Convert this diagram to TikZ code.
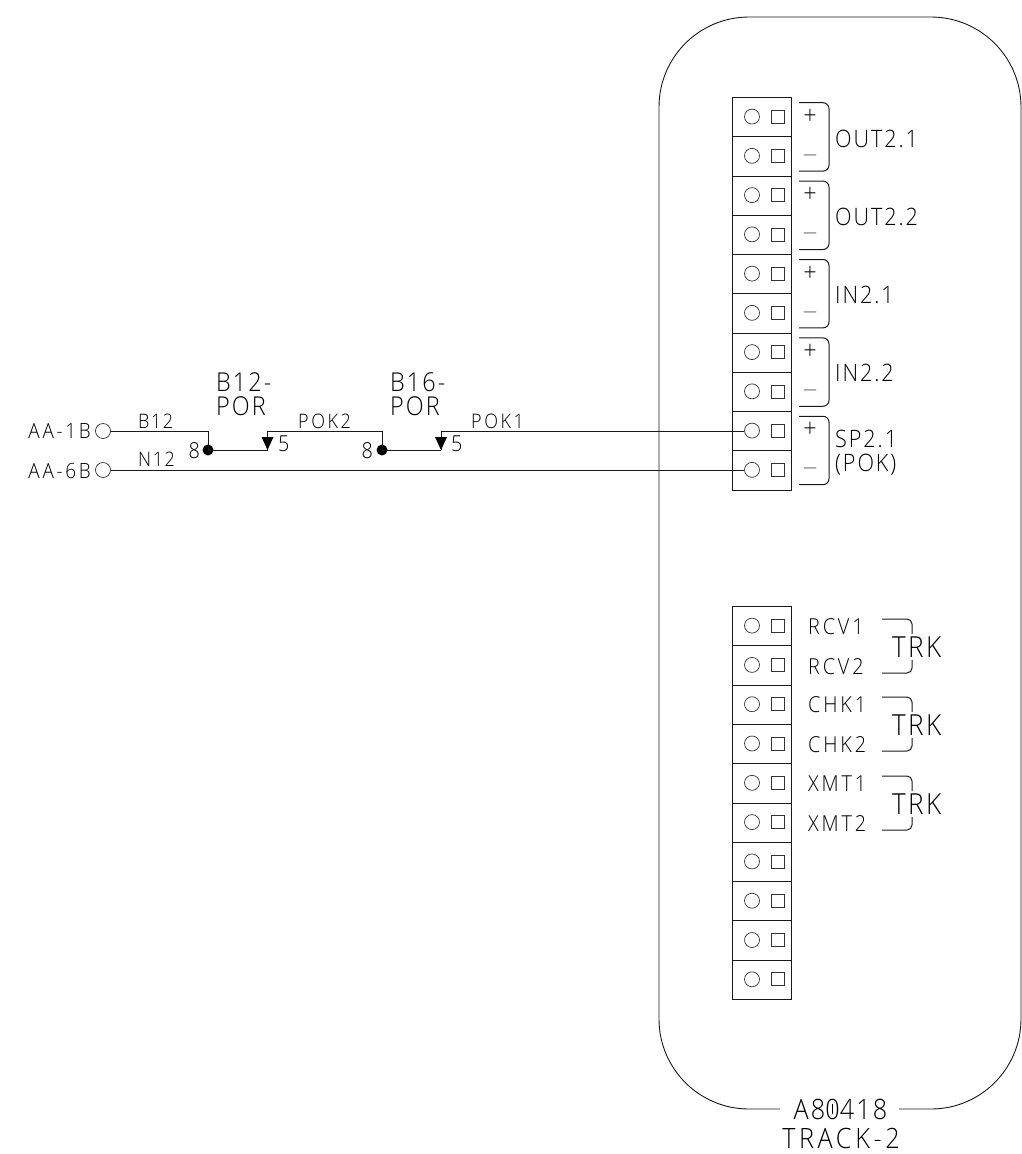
\documentclass[tikz,border=0pt]{standalone}
\usepackage{fontspec}
\newfontfamily\cadfont{Open Sans Light}[LetterSpace=8,FakeStretch=0.9]
\newfontfamily\cadwide{Open Sans Light}[LetterSpace=13,FakeStretch=0.9]
\newcommand{\slashzero}{\ooalign{0\cr\hfil\raisebox{0.18em}{\rule{0.6pt}{0.36em}}\hfil\cr}}
\tikzset{
  x=1pt,y=-1pt,
  wire/.style={line width=1pt,black!90},
  outline/.style={line width=0.9pt,black!90},
  cell/.style={draw,line width=0.9pt,black!90,minimum width=59pt,minimum height=39.3pt,inner sep=0pt,anchor=north west},
  hole/.style={draw,circle,line width=0.7pt,black!80,minimum size=15pt,inner sep=0pt},
  screw/.style={draw,rectangle,line width=0.7pt,black!80,minimum size=13pt,inner sep=0pt},
  dotnode/.style={circle,fill=black,minimum size=11pt,inner sep=0pt},
  cad/.style={inner sep=0pt,text=black,font=\cadfont\fontsize{#1}{#1}\selectfont},
  tl/.style={cad=#1,anchor=west},
  tr/.style={cad=#1,anchor=east},
  tc/.style={cad=#1,anchor=center},
  widefont/.style={font=\cadwide\fontsize{#1}{#1}\selectfont},
  tip/.style={fill=black},
}
\begin{document}
\begin{tikzpicture}
\useasboundingbox (0,0) rectangle (1022,1154);
% enclosure
\node[tc=28] (title) at (840.5,1109) {A8\slashzero418};
\node[tc=28,widefont=28] (sub) at (841,1138) {TRACK-2};
\draw[outline,rounded corners=90pt] (780,1109) -- (659,1109) -- (659,17) -- (1021,17) -- (1021,1109) -- (899,1109);
% upper terminal block
\foreach \i [evaluate=\i as \y using 97+(\i-1)*39.25] in {1,...,10}{
  \node[cell] (u\i) at (732,\y) {};
  \node[hole] (uh\i) at (752,\y+19.6) {};
  \node[screw] (us\i) at (777.5,\y+19.6) {};
}
% lower terminal block
\foreach \i [evaluate=\i as \y using 606+(\i-1)*39.3] in {1,...,10}{
  \node[cell] (l\i) at (732,\y) {};
  \node[hole] (lh\i) at (752,\y+19.6) {};
  \node[screw] (ls\i) at (777.5,\y+19.6) {};
}
% polarity brackets
\foreach \i/\name [evaluate=\i as \y using 102.7+\i*78.4] in {0/a,1/b,2/c,3/d,4/e}{
  \draw[wire,rounded corners=6pt] (799,\y) -- (829,\y) -- (829,\y+68.4) -- (799,\y+68.4);
  \node[tc=26] (plus\name) at (810,\y+14) {+};
  \node[tc=15] (minus\name) at (810,\y+54.5) {—};
}
\node[tl=24] (o1) at (835,138.5) {OUT2.1};
\node[tl=24] (o2) at (835,216.5) {OUT2.2};
\node[tl=24] (i1) at (835,295) {IN2.1};
\node[tl=24] (i2) at (835,373) {IN2.2};
\node[tl=24] (sp) at (835,439) {SP2.1};
\node[tl=24] (pk) at (835,465) {(POK)};
% track labels
\foreach \y/\a/\b/\n in {627/RCV1/RCV2/r,705/CHK1/CHK2/c,784/XMT1/XMT2/x}{
  \node[tl=22,widefont=22] (\n1) at (808,\y) {\a};
  \node[tl=22,widefont=22] (\n2) at (808,\y+39.5) {\b};
  \node[tl=29] (\n t) at (892,\y+20) {TRK};
  \draw[wire,rounded corners=5pt] (882,\y-8) -- (912,\y-8) -- (912,\y+7);
  \draw[wire,rounded corners=5pt] (912,\y+33) -- (912,\y+46) -- (882,\y+46);
}
% left side
\node[hole] (aa1) at (103,431) {};
\node[hole] (aa6) at (103,470) {};
\node[tr=21,widefont=21] (aa1t) at (91,431) {AA-1B};
\node[tr=21,widefont=21] (aa6t) at (91,471) {AA-6B};
\node[tl=20] (b12) at (138,421) {B12};
\node[tl=20] (n12) at (138,459.5) {N12};
\node[tl=26] (b12p) at (216,382) {B12-};
\node[tl=26] (b12q) at (216,406) {POR};
\node[tl=26] (b16p) at (390,382) {B16-};
\node[tl=26] (b16q) at (390,406) {POR};
\node[tl=20,widefont=20] (pok2) at (298,421) {POK2};
\node[tl=20,widefont=20] (pok1) at (471,421) {POK1};
\node[dotnode] (d1) at (208,450) {};
\node[dotnode] (d2) at (382,450) {};
\node[tr=22] (e1) at (200,451) {8};
\node[tr=22] (e2) at (373,451) {8};
\node[tl=22] (f1) at (278,444) {5};
\node[tl=22] (f2) at (451,444) {5};
\coordinate (a1) at (267.5,450);
\coordinate (a2) at (441,450);
\coordinate (k1) at (267.5,431);
\coordinate (k2) at (441,431);
\draw[wire] (aa1.east) -- (aa1.east -| d1.center) -- (d1.center) -- (a1);
\draw[wire] (a1) -- (k1) -- (k1 -| d2.center) -- (d2.center) -- (a2);
\draw[wire] (a2) -- (k2) -- (k2 -| uh9.west);
\draw[wire] (aa6.east) -- (aa6.east -| uh10.west);
\fill[tip] (a1) -- ++(-6,-13) -- ++(12,0) -- cycle;
\fill[tip] (a2) -- ++(-6,-13) -- ++(12,0) -- cycle;
\end{tikzpicture}
\end{document}
